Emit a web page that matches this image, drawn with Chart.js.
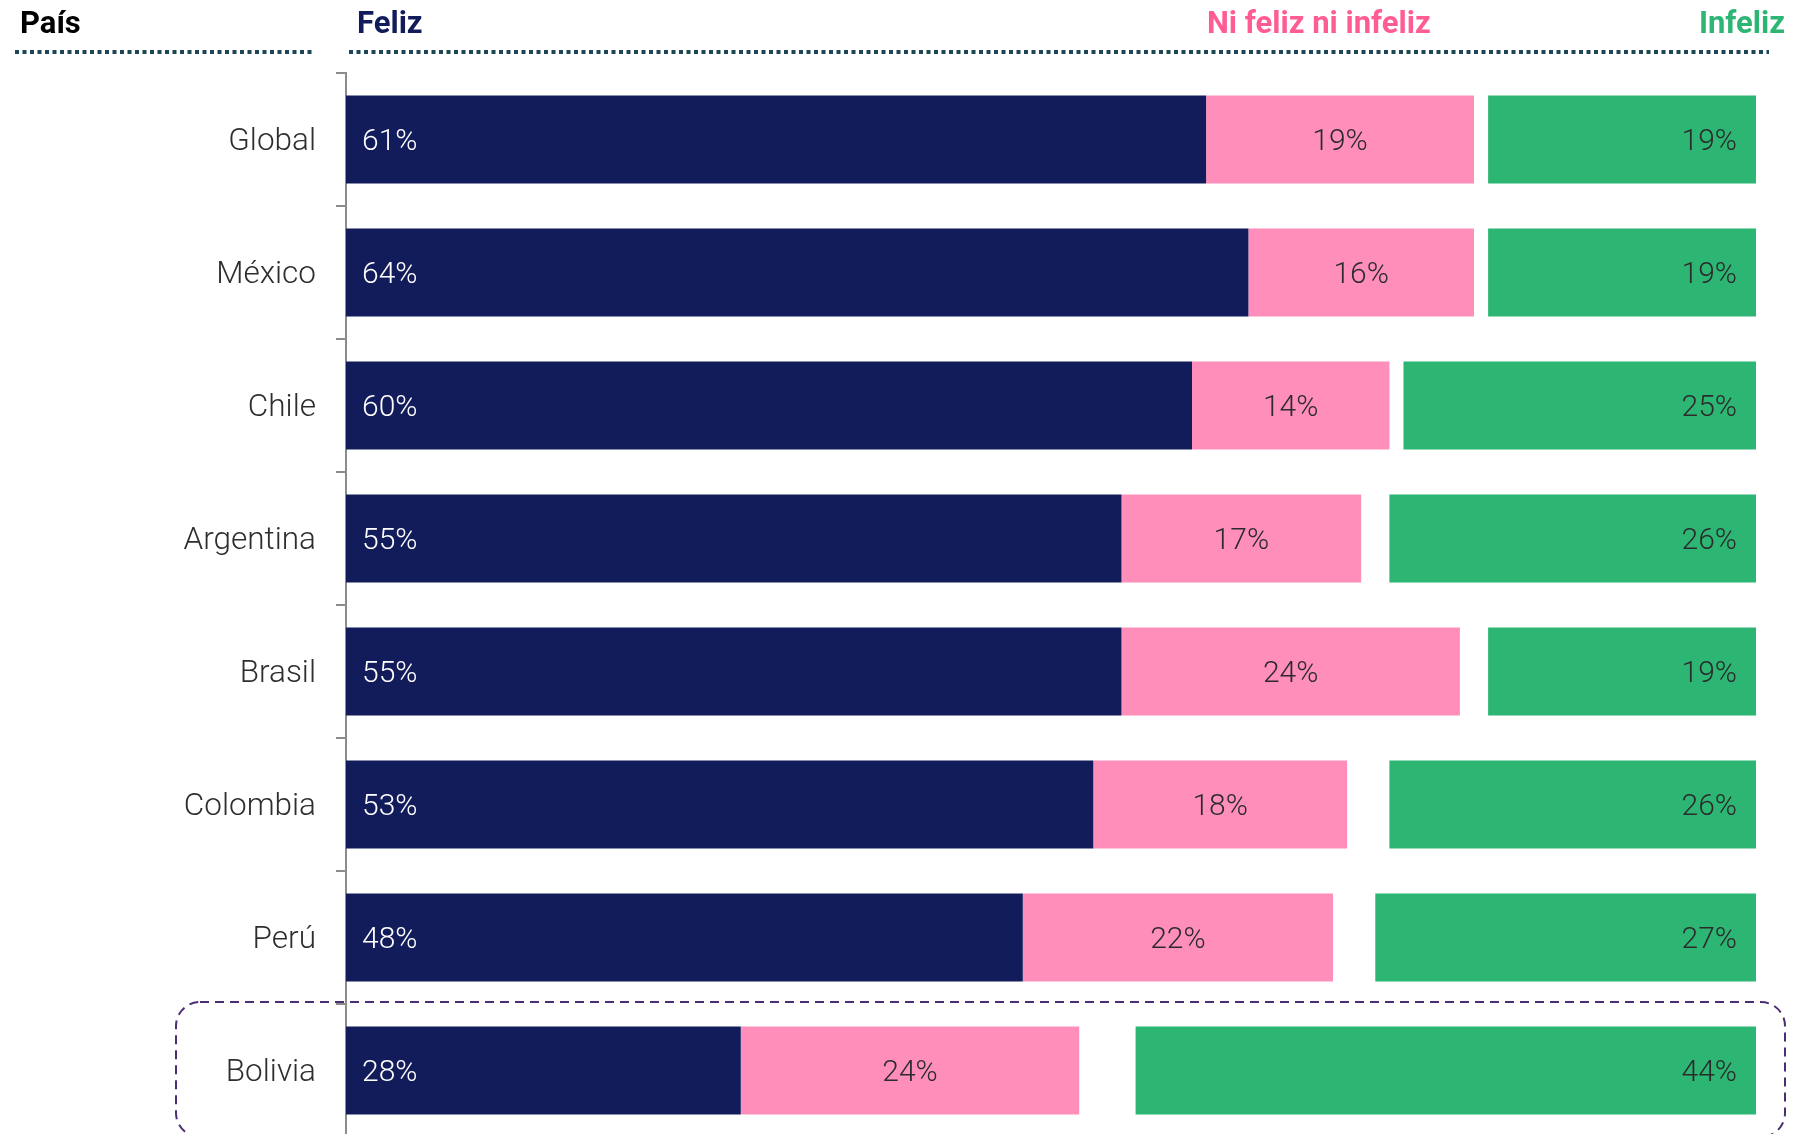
<!DOCTYPE html>
<html lang="es">
<head>
<meta charset="utf-8">
<title>Felicidad por país</title>
<script src="https://cdn.jsdelivr.net/npm/chart.js@4.4.1/dist/chart.umd.min.js"></script>
<style>
  html, body { margin: 0; padding: 0; background: #fff; overflow: hidden; }
  #wrap { width: 1813px; height: 1140px; }
</style>
</head>
<body>
<div id="wrap"><canvas id="happyChart" width="1813" height="1140"></canvas></div>
<script>
// Data (percent of respondents)
const countries = ["Global", "México", "Chile", "Argentina", "Brasil", "Colombia", "Perú", "Bolivia"];
const happy = [61, 64, 60, 55, 55, 53, 48, 28];
const neutral = [19, 16, 14, 17, 24, 18, 22, 24];
const unhappy = [19, 19, 25, 26, 19, 26, 27, 44];
const seriesNames = ["Feliz", "Ni feliz ni infeliz", "Infeliz"];
const highlighted = "Bolivia";

const NAVY = "#131c5b";
const PINK = "#ff8fba";
const GREEN = "#2db673";
const FONT = "Roboto, 'Liberation Sans', sans-serif";

// Feliz and the neutral share stack from the left, Infeliz is anchored on the right edge
const happyBars = happy.map((v) => [0, v]);
const neutralBars = neutral.map((v, i) => [happy[i], happy[i] + v]);
const unhappyBars = unhappy.map((v) => [100 - v, 100]);
const rawValues = [happy, neutral, unhappy];

// value labels inside the bars
const barLabels = {
  id: "barLabels",
  afterDatasetsDraw(chart) {
    const ctx = chart.ctx;
    ctx.save();
    ctx.font = "300 30px " + FONT;
    ctx.textBaseline = "middle";
    chart.data.datasets.forEach((ds, i) => {
      const meta = chart.getDatasetMeta(i);
      meta.data.forEach((bar, j) => {
        const left = Math.min(bar.x, bar.base);
        const right = Math.max(bar.x, bar.base);
        const text = rawValues[i][j] + "%";
        const y = bar.y + 3;
        if (i === 0) {
          ctx.fillStyle = "#ffffff";
          ctx.textAlign = "left";
          ctx.fillText(text, left + 16, y);
        } else if (i === 1) {
          ctx.fillStyle = "#2b2b2b";
          ctx.textAlign = "center";
          ctx.fillText(text, (left + right) / 2, y);
        } else {
          ctx.fillStyle = "#2b2b2b";
          ctx.textAlign = "right";
          ctx.fillText(text, right - 19, y);
        }
      });
    });
    ctx.restore();
  },
};

// column headers, dotted rules and the box around the highlighted country
const decorations = {
  id: "decorations",
  afterDraw(chart) {
    const ctx = chart.ctx;
    const area = chart.chartArea;
    const yScale = chart.scales.y;
    ctx.save();

    ctx.font = "bold 31px " + FONT;
    ctx.textBaseline = "alphabetic";
    ctx.textAlign = "left";
    ctx.fillStyle = "#000000";
    ctx.fillText("País", 20, 33);
    ctx.fillStyle = NAVY;
    ctx.fillText(seriesNames[0], area.left + 11, 33);
    ctx.fillStyle = "#ff5c93";
    ctx.fillText(seriesNames[1], 1207, 33);
    ctx.fillStyle = GREEN;
    ctx.textAlign = "right";
    ctx.fillText(seriesNames[2], area.right + 29, 33);

    ctx.strokeStyle = "#1d4756";
    ctx.lineWidth = 4;
    ctx.setLineDash([4, 3.5]);
    ctx.beginPath();
    ctx.moveTo(15, 52);
    ctx.lineTo(314, 52);
    ctx.moveTo(349, 52);
    ctx.lineTo(1769, 52);
    ctx.stroke();

    const idx = countries.indexOf(highlighted);
    const step = yScale.getPixelForValue(1) - yScale.getPixelForValue(0);
    const top = yScale.getPixelForValue(idx) - step / 2 - 2;
    const bottom = top + step + 2;
    ctx.strokeStyle = "#4b2d73";
    ctx.lineWidth = 2;
    ctx.setLineDash([9, 6]);
    ctx.beginPath();
    ctx.roundRect(176, top, 1785 - 176, bottom - top, 24);
    ctx.stroke();

    ctx.restore();
  },
};

const context = document.getElementById("happyChart").getContext("2d");

const happyChart = new Chart(context, {
  type: "bar",
  data: {
    labels: countries,
    datasets: [
      { label: seriesNames[0], data: happyBars, backgroundColor: NAVY },
      { label: seriesNames[1], data: neutralBars, backgroundColor: PINK },
      { label: seriesNames[2], data: unhappyBars, backgroundColor: GREEN },
    ],
  },
  options: {
    indexAxis: "y",
    responsive: false,
    animation: false,
    layout: { padding: { top: 73, right: 57, bottom: 3, left: 0 } },
    datasets: {
      bar: {
        grouped: false,
        categoryPercentage: 0.662,
        barPercentage: 1,
        borderWidth: 0,
        borderSkipped: false,
      },
    },
    plugins: {
      legend: { display: false },
      tooltip: { enabled: false },
    },
    scales: {
      x: { display: false, min: 0, max: 100 },
      y: {
        grid: {
          offset: true,
          drawOnChartArea: false,
          drawTicks: true,
          tickLength: 10,
          color: "#8c8c8c",
          lineWidth: 2,
        },
        border: { display: true, color: "#8c8c8c", width: 2 },
        ticks: {
          padding: 20,
          labelOffset: 3,
          color: "#2e2e2e",
          font: { family: FONT, size: 31.5, weight: 300 },
        },
        afterFit(scale) {
          // fixed axis width, and no extra room above/below for the labels
          scale.width = 346;
          scale.paddingTop = 0;
          scale.paddingBottom = 0;
        },
      },
    },
  },
  plugins: [barLabels, decorations],
});
</script>
</body>
</html>
